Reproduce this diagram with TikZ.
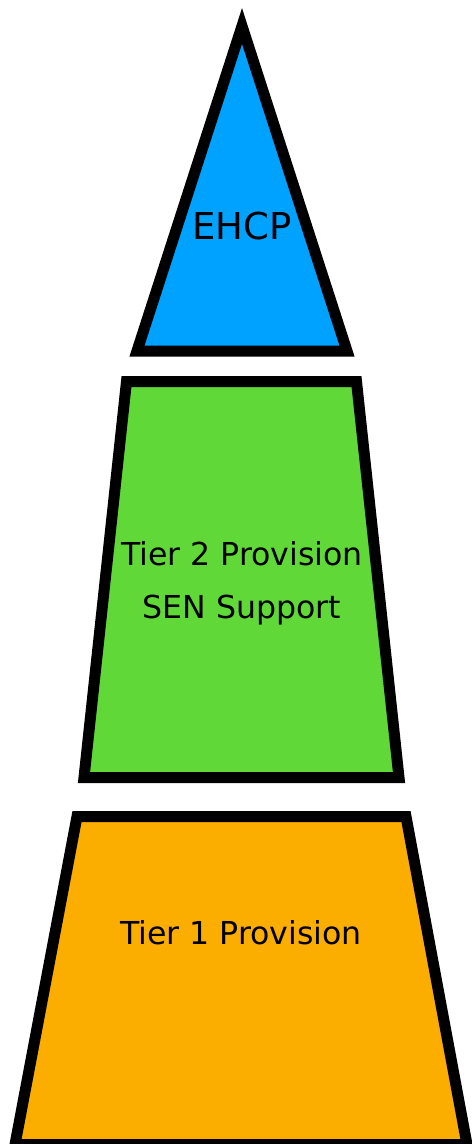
\documentclass[tikz,border=0pt]{standalone}
\usepackage{fontspec}
\setmainfont{DejaVu Sans}
\usepackage{tikz}
\definecolor{ehcpblue}{RGB}{0,162,255}
\definecolor{tiertwogreen}{RGB}{96,217,56}
\definecolor{tieroneorange}{RGB}{252,174,0}
\tikzset{
  tier/.style={draw=black,line width=5.5pt,line join=miter},
  tierlabel/.style={anchor=base,inner sep=0pt,align=center,font=\fontsize{15.8}{26.5}\selectfont}
}

\begin{document}
\begin{tikzpicture}[x=0.5pt,y=-0.5pt]
    \useasboundingbox (0,0) rectangle (471,1144);
    % top: EHCP
    \coordinate (ehcpTop) at (242,26);
    \coordinate (ehcpL) at (137,351);
    \coordinate (ehcpR) at (347,351);
    \draw[tier,fill=ehcpblue] (ehcpTop) -- (ehcpR) -- (ehcpL) -- cycle;
    \node[tierlabel,font=\fontsize{18.5}{22}\selectfont] (ehcp) at (242,240) {EHCP};
    % middle: tier 2
    \coordinate (twoTL) at (126.5,381.5);
    \coordinate (twoTR) at (356.5,381.5);
    \coordinate (twoBR) at (399,777.5);
    \coordinate (twoBL) at (84,777.5);
    \draw[tier,fill=tiertwogreen] (twoTL) -- (twoTR) -- (twoBR) -- (twoBL) -- cycle;
    \node[tierlabel] (tiertwo) at (242,618) {Tier 2 Provision\\SEN Support};
    % bottom: tier 1
    \coordinate (oneTL) at (77,816.5);
    \coordinate (oneTR) at (406,816.5);
    \coordinate (oneBR) at (467,1144.5);
    \coordinate (oneBL) at (15,1144.5);
    \draw[tier,fill=tieroneorange] (oneTL) -- (oneTR) -- (oneBR) -- (oneBL) -- cycle;
    \node[tierlabel] (tierone) at (241,944) {Tier 1 Provision};
\end{tikzpicture}
\end{document}
